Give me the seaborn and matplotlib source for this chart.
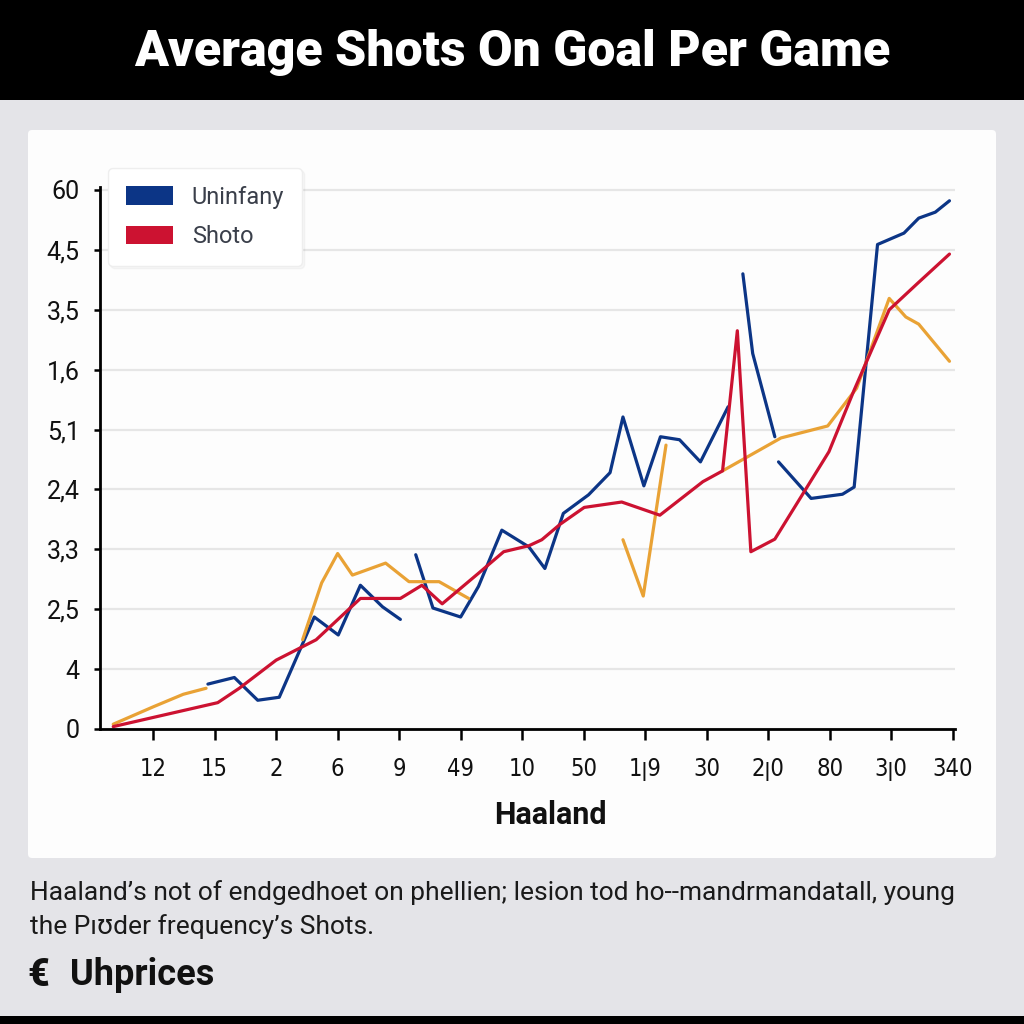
import matplotlib
matplotlib.use("Agg")
import matplotlib.pyplot as plt
from matplotlib.patches import Rectangle, FancyBboxPatch, Patch
import seaborn as sns
import pandas as pd
import numpy as np

# ---------------- data ----------------
x_tick_labels = ["12", "15", "2", "6", "9", "49", "10", "50", "1ꞁ9", "30", "2ꞁ0", "80", "3ꞁ0", "340"]
y_tick_labels = ["0", "4", "2,5", "3,3", "2,4", "5,1", "1,6", "3,5", "4,5", "60"]

series_names = ["Uninfany", "Shoto", "Trend"]

# Blue ("Uninfany"), drawn as broken segments
blue_x_1 = [1.89, 2.32, 2.70, 3.05, 3.62, 4.01, 4.37, 4.73, 5.02]
blue_y_1 = [0.75, 0.86, 0.48, 0.53, 1.87, 1.57, 2.40, 2.04, 1.83]
blue_x_2 = [5.27, 5.55, 6.00, 6.29, 6.67, 7.11, 7.37, 7.67, 8.08, 8.43, 8.64, 8.98, 9.25, 9.56, 9.90, 10.35]
blue_y_2 = [2.91, 2.02, 1.87, 2.38, 3.32, 3.04, 2.68, 3.60, 3.91, 4.28, 5.21, 4.06, 4.88, 4.83, 4.46, 5.38]
blue_x_3 = [10.59, 10.75, 11.11]
blue_y_3 = [7.60, 6.27, 4.88]
blue_x_4 = [11.17, 11.70, 12.21, 12.40, 12.78, 13.21, 13.45, 13.72, 13.95]
blue_y_4 = [4.46, 3.85, 3.92, 4.04, 8.09, 8.28, 8.53, 8.63, 8.82]

# Red ("Shoto")
red_x = [0.35, 2.05, 2.40, 3.00, 3.65, 4.37, 5.02, 5.37, 5.70, 6.29, 6.70, 7.11, 7.32,
         7.62, 8.01, 8.62, 9.24, 9.94, 10.26, 10.50, 10.72, 11.11, 11.99, 12.40, 12.97, 13.43, 13.95]
red_y = [0.04, 0.44, 0.68, 1.15, 1.49, 2.18, 2.18, 2.40, 2.09, 2.60, 2.96, 3.06, 3.16,
         3.42, 3.70, 3.79, 3.57, 4.13, 4.31, 6.65, 2.96, 3.17, 4.63, 5.66, 7.00, 7.44, 7.93]

# Orange (no legend entry), broken segments
orange_x_1 = [0.35, 1.00, 1.49, 1.86]
orange_y_1 = [0.08, 0.37, 0.58, 0.68]
orange_x_2 = [3.43, 3.74, 4.00, 4.24, 4.78, 5.16, 5.65, 6.13]
orange_y_2 = [1.49, 2.44, 2.93, 2.57, 2.77, 2.46, 2.46, 2.18]
orange_x_3 = [8.64, 8.97, 9.34]
orange_y_3 = [3.16, 2.22, 4.74]
orange_x_4 = [10.26, 11.21, 11.97, 12.44, 12.97, 13.24, 13.45, 13.95]
orange_y_4 = [4.31, 4.86, 5.06, 5.69, 7.19, 6.88, 6.76, 6.14]

title_text = "Average Shots On Goal Per Game"
x_label = "Haaland"
caption_1 = "Haaland\u2019s not of endgedhoet on phellien; lesion tod ho--mandrmandatall, young"
caption_2 = "the P\u0131\u028ader frequency\u2019s Shots."
brand = "Uhprices"

# ---------------- build table ----------------
rows = []
def add(name, seg, xs, ys):
    for xv, yv in zip(xs, ys):
        rows.append({"series": name, "seg": f"{name}-{seg}", "x": xv, "y": yv})

add("Uninfany", 1, blue_x_1, blue_y_1)
add("Uninfany", 2, blue_x_2, blue_y_2)
add("Uninfany", 3, blue_x_3, blue_y_3)
add("Uninfany", 4, blue_x_4, blue_y_4)
add("Trend", 1, orange_x_1, orange_y_1)
add("Trend", 2, orange_x_2, orange_y_2)
add("Trend", 3, orange_x_3, orange_y_3)
add("Trend", 4, orange_x_4, orange_y_4)
add("Shoto", 1, red_x, red_y)
df = pd.DataFrame(rows)

BLUE = "#0c3586"
RED = "#cc1231"
ORANGE = "#e9a235"
palette = {"Uninfany": BLUE, "Shoto": RED, "Trend": ORANGE}

# ---------------- figure ----------------
sns.set_theme(style="white")
plt.rcParams["font.family"] = ["Roboto", "DejaVu Sans"]

W = H = 1024
fig = plt.figure(figsize=(10.24, 10.24), dpi=100, facecolor="#e4e4e8")

# title band
fig.add_artist(Rectangle((0, 1 - 100 / H), 1, 100 / H, transform=fig.transFigure,
                         facecolor="black", edgecolor="none", zorder=0))
# bottom band
fig.add_artist(Rectangle((0, 0), 1, 8 / H, transform=fig.transFigure,
                         facecolor="black", edgecolor="none", zorder=0))
# white panel
fig.add_artist(FancyBboxPatch((28 / W, 1 - 858 / H), (996 - 28) / W, (858 - 130) / H,
                              boxstyle="round,pad=0,rounding_size=0.004",
                              transform=fig.transFigure, facecolor="#fdfdfd",
                              edgecolor="none", zorder=0))

ax = fig.add_axes([100 / W, 1 - 729 / H, (955 - 100) / W, (729 - 187) / H])
ax.set_facecolor("none")

hue_order = ["Uninfany", "Trend", "Shoto"]
sns.lineplot(data=df, x="x", y="y", hue="series", hue_order=hue_order, units="seg",
             estimator=None, sort=False, palette=palette, linewidth=2.3, ax=ax, legend=False)

ax.set_xlim(0.135, 14.04)
ax.set_ylim(0, 9.05)
ax.set_xticks(range(1, 15))
ax.set_xticklabels(x_tick_labels, fontsize=17, family=["DejaVu Sans"], fontstretch="condensed")
ax.set_yticks(range(0, 10))
ax.set_yticklabels(y_tick_labels, fontsize=18, family=["Roboto", "DejaVu Sans"])
ax.set_xlabel("")
ax.set_ylabel("")

ax.yaxis.grid(True, color="#e6e6e6", linewidth=1.6)
ax.xaxis.grid(False)
for s in ["top", "right"]:
    ax.spines[s].set_visible(False)
for s in ["left", "bottom"]:
    ax.spines[s].set_color("black")
    ax.spines[s].set_linewidth(2)
ax.tick_params(axis="both", which="major", direction="out", width=1.8,
               color="black", labelcolor="#111111")
ax.tick_params(axis="x", length=8, pad=12)
ax.tick_params(axis="y", length=4.5, pad=10)
ax.tick_params(bottom=True, left=True)

# legend
handles = [Patch(facecolor=BLUE, edgecolor="none", label="Uninfany"),
           Patch(facecolor=RED, edgecolor="none", label="Shoto")]
leg = fig.legend(handles=handles, loc="upper left",
                 bbox_to_anchor=(108 / W, 1 - 168 / H), bbox_transform=fig.transFigure,
                 frameon=True, fontsize=17, handlelength=2.0, handleheight=0.8,
                 labelspacing=0.7, borderpad=0.75, handletextpad=0.8, borderaxespad=0,
                 fancybox=True, framealpha=1, shadow={"alpha": 0.04})
leg.get_frame().set_edgecolor("#eeeeee")
leg.get_frame().set_facecolor("white")
for t in leg.get_texts():
    t.set_color("#3a3f4a")

# texts
fig.text(0.5, 1 - 52 / H, title_text, ha="center", va="center", color="white",
         fontsize=36, fontweight="heavy", family=["Roboto", "DejaVu Sans"])
fig.text(550 / W, 1 - 815 / H, x_label, ha="center", va="center", color="#111111",
         fontsize=22, fontweight="bold", family=["Roboto", "DejaVu Sans"])
fig.text(30 / W, 1 - 893 / H, caption_1, ha="left", va="center", color="#1a1a1a",
         fontsize=19, family=["Roboto", "DejaVu Sans"])
fig.text(30 / W, 1 - 927 / H, caption_2, ha="left", va="center", color="#1a1a1a",
         fontsize=19, family=["Roboto", "DejaVu Sans"])
fig.text(27 / W, 1 - 975 / H, "\u20ac", ha="left", va="center", color="#111111",
         fontsize=27, fontweight="heavy", family=["Roboto", "DejaVu Sans"])
fig.text(70 / W, 1 - 975 / H, brand, ha="left", va="center", color="#111111",
         fontsize=26, fontweight="bold", family=["Roboto", "DejaVu Sans"])

fig.savefig("out.png", dpi=100, facecolor=fig.get_facecolor())
